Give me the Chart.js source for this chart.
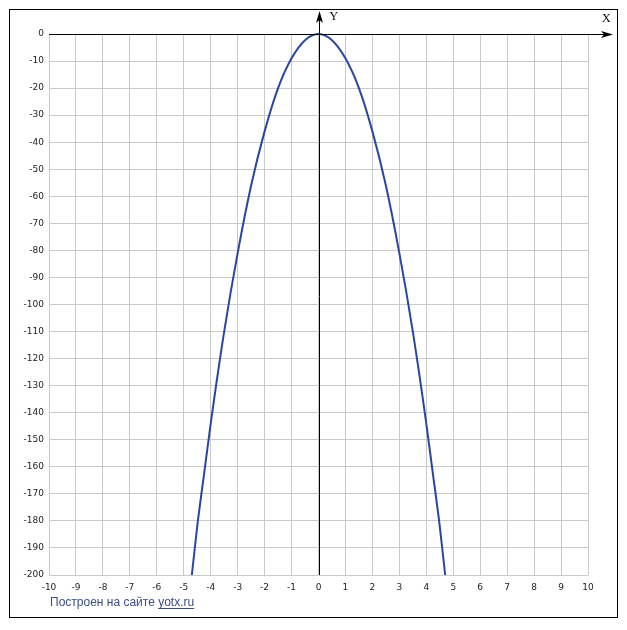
<!DOCTYPE html>
<html>
<head>
<meta charset="utf-8">
<script src="https://cdn.jsdelivr.net/npm/chart.js@4.4.0/dist/chart.umd.min.js"></script>
<style>
html,body{margin:0;padding:0;background:#fff;}
#wrap{position:relative;width:627px;height:630px;}
</style>
</head>
<body>
<div id="wrap"><canvas id="myChart" width="627" height="630"></canvas></div>
<script>
// points
var xs=[-4.7,-4.5,-4.25,-4,-3.5,-3,-2.5,-2,-1.5,-1,-0.5,0,0.5,1,1.5,2,2.5,3,3.5,4,4.25,4.5,4.7];
var ys=[-200,-182,-163,-144,-110,-81,-56,-36,-20,-9,-2.3,0,-2.3,-9,-20,-36,-56,-81,-110,-144,-163,-182,-200];
var xRange=[-10,10];
var yRange=[-200,0];
var footerText="Построен на сайте ";
var footerLink="yotx.ru";

var pts=[];
for(var i=0;i<xs.length;i++){pts.push({x:xs[i],y:ys[i]});}

var decor={
    id:"decor",
    afterDraw:function(chart){
        var c=chart.ctx;
        var sx=chart.scales.x, sy=chart.scales.y;
        var x0=Math.round(sx.getPixelForValue(0))+0.5;
        var y0=Math.round(sy.getPixelForValue(0))+0.5;
        var area=chart.chartArea;
        c.save();
        c.strokeStyle="#000";
        c.fillStyle="#000";
        c.lineWidth=1;
        // x axis
        c.beginPath();c.moveTo(area.left,y0);c.lineTo(606,y0);c.stroke();
        c.beginPath();c.moveTo(613,y0);c.lineTo(601,y0-3.5);c.lineTo(604,y0);c.lineTo(601,y0+3.5);c.closePath();c.fill();
        // y axis
        c.beginPath();c.moveTo(x0,area.bottom);c.lineTo(x0,18);c.stroke();
        c.beginPath();c.moveTo(x0,11);c.lineTo(x0-3.5,23);c.lineTo(x0,20);c.lineTo(x0+3.5,23);c.closePath();c.fill();
        // axis names
        c.font="12px 'Liberation Serif', serif";
        c.textBaseline="middle";
        c.textAlign="left";
        c.fillText("Y",x0+10,17);
        c.fillText("X",602,19);
        // frame
        c.strokeRect(9.5,9.5,608,608);
        // footer
        c.font="12px 'Liberation Sans', sans-serif";
        c.fillStyle="#3b4c86";
        c.textBaseline="alphabetic";
        c.fillText(footerText,50,606);
        var w=c.measureText(footerText).width;
        c.fillText(footerLink,50+w,606);
        var w2=c.measureText(footerLink).width;
        c.strokeStyle="#3b4c86";
        c.beginPath();c.moveTo(50+w,608.5);c.lineTo(50+w+w2,608.5);c.stroke();
        c.restore();
    }
};

var ctx=document.getElementById("myChart").getContext("2d");
var chart=new Chart(ctx,{
    type:"scatter",
    data:{
        datasets:[{
            data:pts,
            showLine:true,
            borderColor:"#2947a0",
            borderWidth:2,
            pointRadius:0,
            cubicInterpolationMode:"monotone",
            clip:false
        }]
    },
    options:{
        responsive:false,
        animation:false,
        layout:{padding:{left:0,top:34,right:39,bottom:0}},
        plugins:{legend:{display:false},tooltip:{enabled:false}},
        scales:{
            x:{
                type:"linear",
                min:xRange[0],max:xRange[1],
                afterFit:function(s){s.height=55;},
                grid:{color:"#c9c9c9",drawTicks:false},
                border:{display:false},
                ticks:{stepSize:1,padding:7,color:"#222",font:{family:"'DejaVu Sans', sans-serif",size:9},maxRotation:0,autoSkip:false}
            },
            y:{
                type:"linear",
                min:yRange[0],max:yRange[1],
                afterFit:function(s){s.width=49;},
                grid:{color:"#c9c9c9",drawTicks:false},
                border:{display:false},
                ticks:{stepSize:10,padding:5,color:"#222",font:{family:"'DejaVu Sans', sans-serif",size:9},autoSkip:false}
            }
        }
    },
    plugins:[decor]
});
</script>
</body>
</html>
